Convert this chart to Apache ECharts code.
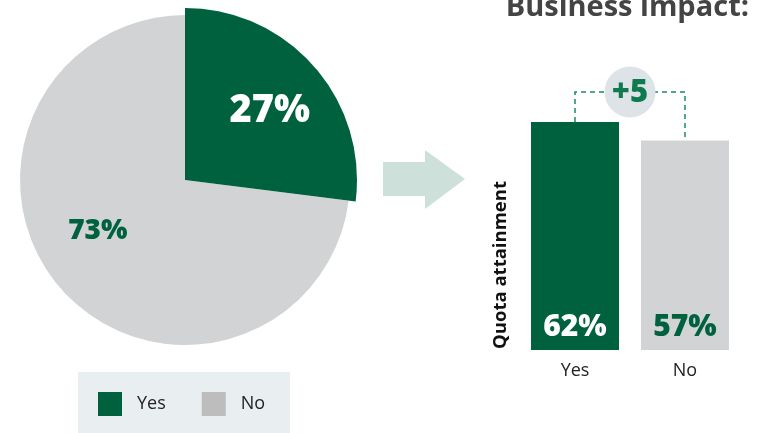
<!DOCTYPE html>
<html><head><meta charset="utf-8">
<script src="https://cdn.jsdelivr.net/npm/echarts@6/dist/echarts.min.js"></script>
<style>html,body{margin:0;padding:0;background:#fff}#c{width:759px;height:433px}</style>
</head><body><div id="c"></div>
<script>
// ---- data ----
const pieNames = ['Yes', 'No'];
const pieValues = [27, 73];
const barCategories = ['Yes', 'No'];
const barValues = [62, 57];
const diffLabel = '+5';
const titleText = 'Business impact:';
const yAxisTitle = 'Quota attainment';

const GREEN = '#00613f';
const GRAY = '#d2d3d5';
const LEGEND_GRAY = '#bdbdbe';
const FONT = '"Open Sans", "DejaVu Sans", sans-serif';

const chart = echarts.init(document.getElementById('c'), null, {renderer: 'canvas'});

const pieBase = pieNames.map((n, i) => ({
  name: n, value: pieValues[i],
  itemStyle: {color: i === 0 ? 'rgba(0,0,0,0)' : GRAY},
  label: {show: i === 1, color: GREEN, fontSize: 28, fontWeight: 800, fontFamily: FONT}
}));
const pieTop = pieNames.map((n, i) => ({
  name: n, value: pieValues[i],
  itemStyle: {color: i === 0 ? GREEN : 'rgba(0,0,0,0)'},
  label: {show: i === 0, color: '#fff', fontSize: 38, fontWeight: 800, fontFamily: FONT}
}));

chart.setOption({
  animation: false,
  title: {
    text: titleText, right: 5, top: -12,
    textStyle: {color: '#444', fontSize: 29, fontWeight: 'bold', fontFamily: FONT}
  },
  legend: {
    left: 78, top: 372,
    data: [
      {name: 'Yes', itemStyle: {color: GREEN}},
      {name: 'No', itemStyle: {color: LEGEND_GRAY}}
    ],
    icon: 'rect', itemWidth: 24, itemHeight: 24, itemGap: 36,
    backgroundColor: '#e9eef0', borderRadius: 0,
    padding: [20, 25, 22, 20],
    textStyle: {fontSize: 18, color: '#222', fontFamily: FONT, padding: [0, 0, 0, 10]},
    selectedMode: false
  },
  grid: {left: 520, width: 220, top: 122, height: 228},
  xAxis: {
    type: 'category', data: barCategories,
    axisLine: {show: false}, axisTick: {show: false},
    axisLabel: {fontSize: 18, color: '#222', margin: 12, fontFamily: FONT}
  },
  yAxis: {type: 'value', min: 0, max: 62, show: false},
  graphic: [
    {
      type: 'polygon',
      shape: {points: [[383, 162], [425, 162], [425, 150], [465, 179], [425, 209], [425, 196], [383, 196]]},
      style: {fill: '#cde0d9'}
    },
    {
      type: 'text', x: 501, y: 265, rotation: Math.PI / 2,
      style: {text: yAxisTitle, fill: '#111', font: 'bold 18.5px ' + FONT, align: 'center', verticalAlign: 'middle'}
    }
  ],
  series: [
    {
      type: 'pie', center: [185, 180], radius: 165, startAngle: 90, clockwise: true,
      silent: true, data: pieBase, labelLine: {show: false},
      label: {position: 'inside', formatter: '{c}%'},
      labelLayout: () => ({dx: -23, dy: -6})
    },
    {
      type: 'pie', center: [185, 180], radius: 172, startAngle: 90, clockwise: true,
      silent: true, data: pieTop, labelLine: {show: false},
      label: {position: 'inside', formatter: '{c}%'},
      labelLayout: () => ({dx: 18, dy: -10})
    },
    {
      type: 'bar', barWidth: 88,
      data: barValues.map((v, i) => ({
        value: v,
        itemStyle: {color: i === 0 ? GREEN : GRAY},
        label: {color: i === 0 ? '#fff' : GREEN}
      })),
      label: {
        show: true, position: 'insideBottom', distance: 8,
        formatter: '{c}%', fontSize: 30, fontWeight: 800, fontFamily: FONT
      }
    },
    {
      type: 'custom', silent: true, z: 10,
      data: [[0, barValues[0], 1, barValues[1]]],
      renderItem: function (params, api) {
        const a = api.coord([barCategories[0], barValues[0]]);
        const b = api.coord([barCategories[1], barValues[1]]);
        const topY = a[1] - 30;
        const midX = (a[0] + b[0]) / 2;
        return {
          type: 'group',
          children: [
            {
              type: 'polyline',
              shape: {points: [[a[0], a[1]], [a[0], topY], [b[0], topY], [b[0], b[1]]]},
              style: {stroke: '#1a8a5f', lineWidth: 1.5, lineDash: [5, 4], fill: null}
            },
            {
              type: 'circle', shape: {cx: midX, cy: topY, r: 25.5},
              style: {fill: '#dde3e6'}
            },
            {
              type: 'text', x: midX, y: topY + 1,
              style: {text: diffLabel, fill: '#0e7a4e', font: '800 31px ' + FONT, align: 'center', verticalAlign: 'middle'}
            }
          ]
        };
      }
    }
  ]
});
</script></body></html>
